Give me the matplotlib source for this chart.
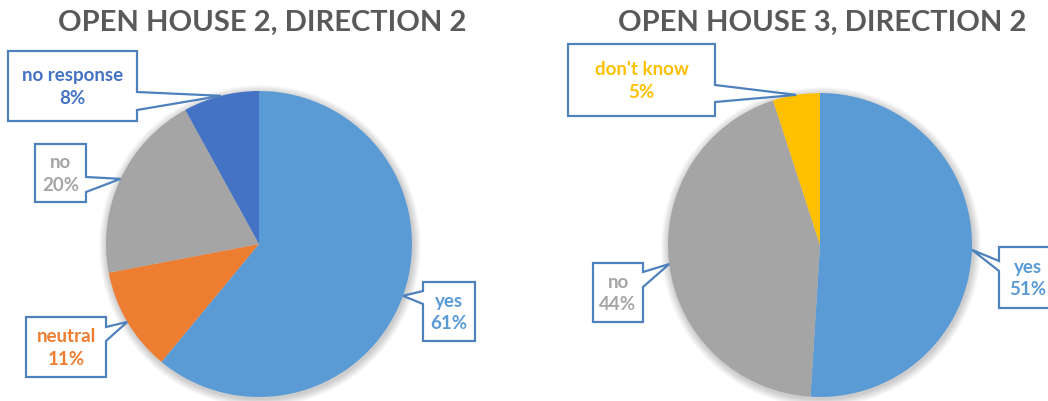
import numpy as np
import matplotlib
matplotlib.use("Agg")
import matplotlib.pyplot as plt
from matplotlib.patches import Polygon, Circle

# data
titles = ["OPEN HOUSE 2, DIRECTION 2", "OPEN HOUSE 3, DIRECTION 2"]

labels_1 = ["yes", "neutral", "no", "no response"]
values_1 = [61, 11, 20, 8]
colors_1 = ["#5B9BD5", "#ED7D31", "#A5A5A5", "#4472C4"]

labels_2 = ["yes", "no", "don't know"]
values_2 = [51, 44, 5]
colors_2 = ["#5B9BD5", "#A5A5A5", "#FFC000"]

W, H = 1048, 402
BORDER = "#4F81BD"
TITLE_COLOR = "#595959"
FONT = ["Lato", "DejaVu Sans"]

# layout, in pixels from top-left: pie centre + radius, then for each slice
# the callout box (x0, y0, x1, y1), the side the pointer leaves from and the
# two points where the pointer meets that side
pies = [
    dict(center=(259, 245), radius=153, title_x=262,
         boxes=[((423, 283, 475, 342), "left", (292, 305)),
                ((26, 318, 106, 378), "right", (328, 342)),
                ((35, 145, 86, 203), "right", (178, 193)),
                ((8, 52, 137, 122), "right", (93, 111))]),
    dict(center=(820, 246), radius=152, title_x=822,
         boxes=[((999, 248, 1060, 309), "left", (262, 272)),
                ((593, 264, 643, 323), "right", (273, 288)),
                ((568, 45, 715, 117), "right", (86, 103))]),
]


def py(y):
    return H - y


def callout(ax, box, side, base, tip, label, pct, color):
    x0, y0, x1, y1 = box
    b0, b1 = base
    if side == "right":
        pts = [(x0, y0), (x1, y0), (x1, b0), tip, (x1, b1), (x1, y1), (x0, y1)]
    else:
        pts = [(x0, y0), (x1, y0), (x1, y1), (x0, y1), (x0, b1), tip, (x0, b0)]
    pts = [(x, py(y)) for x, y in pts]
    ax.add_patch(Polygon(pts, closed=True, facecolor="white",
                         edgecolor=BORDER, linewidth=1.6, zorder=5))
    cx = (x0 + x1) / 2
    if x1 > W:
        cx = (x0 + W) / 2 + 4
    cy = (y0 + y1) / 2
    ax.text(cx, py(cy), "%s\n%d%%" % (label, pct), ha="center", va="center",
            color=color, fontsize=13.5, fontweight="bold", family=FONT,
            linespacing=1.4, zorder=6)


fig = plt.figure(figsize=(W / 100, H / 100), dpi=100)
ax = fig.add_axes([0, 0, 1, 1])

all_data = [(labels_1, values_1, colors_1), (labels_2, values_2, colors_2)]

for p, title, (labels, values, colors) in zip(pies, titles, all_data):
    cx, cy = p["center"][0], py(p["center"][1])
    r = p["radius"]

    # soft shadow round the pie
    for i in range(10, 0, -1):
        ax.add_patch(Circle((cx + 1, cy - 2), r + i * 0.8, color="black",
                            alpha=0.018, linewidth=0, zorder=1))

    wedges, _ = ax.pie(values, colors=colors, startangle=90, counterclock=False,
                       center=(cx, cy), radius=r,
                       wedgeprops=dict(linewidth=0, zorder=2))

    total = float(sum(values))
    for w, lab, val, col, (box, side, base) in zip(wedges, labels, values,
                                                    colors, p["boxes"]):
        mid = np.deg2rad((w.theta1 + w.theta2) / 2)
        tip = (cx + r * np.cos(mid), py(cy + r * np.sin(mid)))
        pct = round(val / total * 100)
        callout(ax, box, side, base, tip, lab, pct, col)

    ax.text(p["title_x"], py(23), title, ha="center", va="center",
            color=TITLE_COLOR, fontsize=21, fontweight="bold", family=FONT)

ax.set_xlim(0, W)
ax.set_ylim(0, H)
ax.set_aspect("equal")
ax.axis("off")

fig.savefig("out.png", dpi=100)
